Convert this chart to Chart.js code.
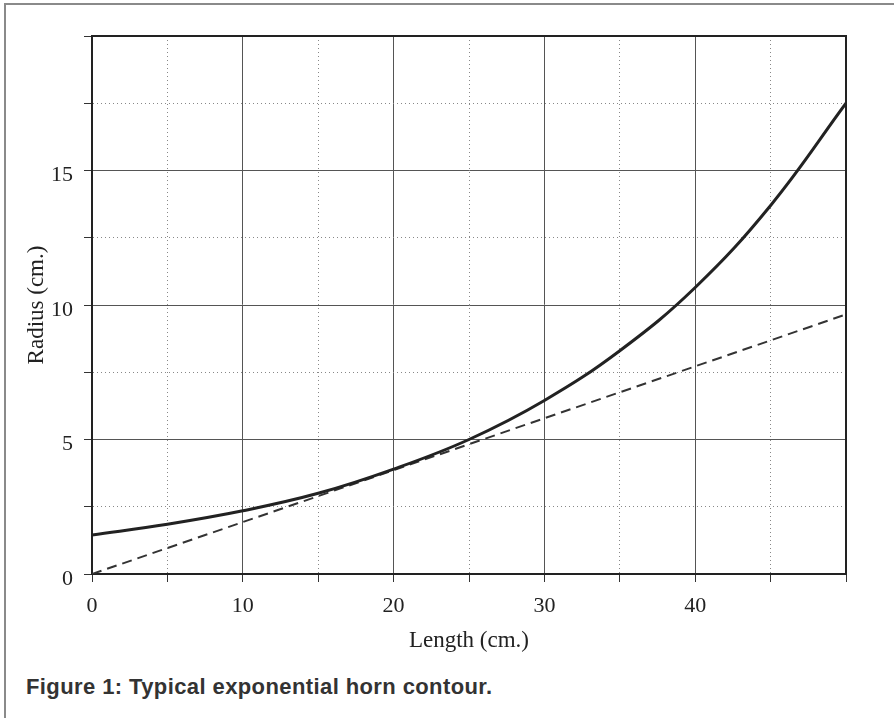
<!DOCTYPE html>
<html>
<head>
<meta charset="utf-8">
<script src="https://cdn.jsdelivr.net/npm/chart.js@4.4.1/dist/chart.umd.min.js"></script>
<style>
  body { margin: 0; background: #fff; }
  #fig { position: relative; width: 894px; height: 718px; overflow: hidden; }
  #chart { position: absolute; left: 0; top: 0; }
  .frameTop { position: absolute; left: 4px; top: 3px; width: 890px; height: 0; border-top: 2px solid #8a8a8a; }
  .frameLeft { position: absolute; left: 4px; top: 3px; width: 0; height: 715px; border-left: 2px solid #8a8a8a; }
  #caption { position: absolute; left: 26px; top: 674px; font-family: "Liberation Sans", Arial, sans-serif;
    font-weight: bold; font-size: 22px; color: #333; letter-spacing: 0.4px; }
</style>
</head>
<body>
<div id="fig">
  <canvas id="chart" width="894" height="660"></canvas>
  <div class="frameTop"></div>
  <div class="frameLeft"></div>
  <div id="caption">Figure 1: Typical exponential horn contour.</div>
</div>
<script>
// values
var lengthCm = [0, 5, 10, 15, 20, 25, 30, 35, 40, 45, 50];
var hornRadius = [1.45, 1.85, 2.35, 3.0, 3.9, 5.0, 6.45, 8.3, 10.65, 13.7, 17.5];
var tangentX = [0, 50];
var tangentY = [0, 9.65];

var xTickLabels = [0, 10, 20, 30, 40];
var yTickLabels = [0, 5, 10, 15];

function points(xs, ys) {
  return xs.map(function (x, i) { return { x: x, y: ys[i] }; });
}

var serif = "'Liberation Serif', 'Times New Roman', serif";

var chart = new Chart(document.getElementById('chart'), {
  type: 'line',
  data: {
    datasets: [
      {
        data: points(lengthCm, hornRadius),
        borderColor: '#222',
        borderWidth: 3,
        pointRadius: 0,
        tension: 0.4,
        fill: false
      },
      {
        data: points(tangentX, tangentY),
        borderColor: '#333',
        borderWidth: 2,
        borderDash: [10, 6],
        pointRadius: 0,
        fill: false
      }
    ]
  },
  options: {
    responsive: false,
    animation: false,
    layout: { padding: { left: 0, right: 48, top: 36, bottom: 0 } },
    plugins: { legend: { display: false }, tooltip: { enabled: false } },
    scales: {
      x: {
        type: 'linear',
        min: 0, max: 50,
        afterFit: function (s) { s.height = 86; },
        ticks: {
          stepSize: 5,
          padding: 11,
          color: '#222',
          font: { family: serif, size: 22 },
          maxRotation: 0,
          autoSkip: false,
          callback: function (v) { return xTickLabels.indexOf(v) >= 0 ? String(v) : ''; }
        },
        grid: {
          color: function (c) { return c.tick && c.tick.value % 10 === 0 ? '#555' : '#888'; },
          lineWidth: 1,
          tickLength: 8,
          tickColor: '#333'
        },
        border: {
          color: '#222', width: 2,
          dash: function (c) { return c.tick && c.tick.value % 10 === 0 ? [] : [1, 3]; }
        },
        title: {
          display: true,
          text: 'Length (cm.)',
          color: '#222',
          font: { family: serif, size: 23 },
          padding: { top: 0, bottom: 5 }
        }
      },
      y: {
        min: 0, max: 20,
        afterFit: function (s) { s.width = 92; },
        ticks: {
          stepSize: 2.5,
          padding: 11,
          labelOffset: 5,
          color: '#222',
          font: { family: serif, size: 22 },
          autoSkip: false,
          callback: function (v) { return yTickLabels.indexOf(v) >= 0 ? String(v) : ''; }
        },
        grid: {
          color: function (c) { return c.tick && c.tick.value % 5 === 0 ? '#555' : '#888'; },
          lineWidth: 1,
          tickLength: 8,
          tickColor: '#333'
        },
        border: {
          color: '#222', width: 2,
          dash: function (c) { return c.tick && c.tick.value % 5 === 0 ? [] : [1, 3]; }
        },
        title: {
          display: true,
          text: 'Radius (cm.)',
          color: '#222',
          font: { family: serif, size: 23 },
          padding: { top: 23, bottom: 0 }
        }
      }
    }
  },
  plugins: [{
    // right and top edges of the plot box
    id: 'box',
    afterDraw: function (c) {
      var a = c.chartArea, ctx = c.ctx;
      ctx.save();
      ctx.strokeStyle = '#222';
      ctx.lineWidth = 2;
      ctx.beginPath();
      ctx.moveTo(a.left, a.top);
      ctx.lineTo(a.right, a.top);
      ctx.lineTo(a.right, a.bottom);
      ctx.stroke();
      ctx.restore();
    }
  }]
});
</script>
</body>
</html>
